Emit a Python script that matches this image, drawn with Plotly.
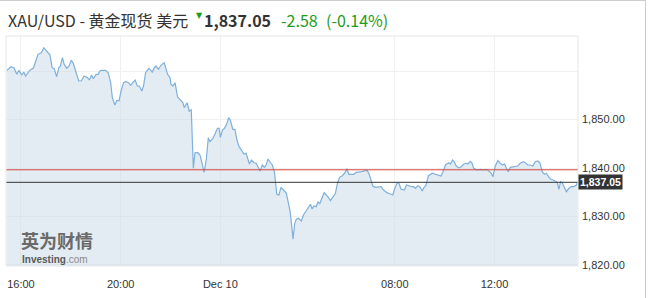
import plotly.graph_objects as go

# trading minutes since Dec 9 16:00 (daily break removed)
minutes = [-34, -24, -17, -10, -5, 2, 7, 11, 16, 21, 30, 35, 41, 49, 55, 62, 70, 75, 80, 86,
           91, 95, 100, 104, 110, 116, 121, 126, 133, 139, 145, 152, 160, 165, 170, 174, 181, 186, 190, 194,
           204, 210, 216, 220, 226, 231, 236, 241, 247, 252, 259, 264, 269, 275, 280, 285, 291, 295, 300, 305,
           308, 313, 316, 321, 325, 331, 337, 345, 349, 353, 359, 361, 366, 371, 377, 383, 390, 393, 400, 405,
           410, 415, 419, 425, 431, 436, 441, 446, 451, 455, 462, 468, 473, 477, 480, 485, 490, 496, 500, 504,
           510, 515, 520, 525, 532, 537, 542, 545, 550, 555, 561, 566, 571, 576, 581, 586, 590, 595, 600, 605,
           610, 614, 616, 621, 626, 632, 639, 644, 648, 652, 655, 659, 663, 668, 675, 680, 687, 692, 697, 701,
           705, 711, 715, 719, 725, 730, 735, 740, 745, 751, 757, 762, 767, 773, 779, 785, 789, 794, 801, 807,
           817, 829, 834, 839, 847, 853, 861, 867, 873, 881, 889, 895, 900, 905, 910, 915, 923, 928, 934, 940,
           945, 950, 955, 960, 966, 970, 975, 981, 990, 998, 1006, 1011, 1016, 1022, 1030, 1034, 1039, 1043, 1048, 1054,
           1060, 1066, 1072, 1076, 1082, 1086, 1090, 1098, 1106, 1114, 1120, 1126, 1132, 1136, 1142, 1148, 1154, 1159, 1164, 1169,
           1173, 1178, 1186, 1196, 1202, 1209, 1214, 1220, 1226, 1232, 1238, 1244, 1249, 1255, 1260, 1265, 1271, 1276, 1281, 1287,
           1291, 1295, 1299, 1303, 1308, 1313, 1319, 1325, 1331, 1337, 1340]

prices = [1860.14, 1860.89, 1860.68, 1859.32, 1860.14, 1859.18, 1859.79, 1858.97, 1859.53, 1860.14,
          1860.62, 1862.06, 1863.44, 1863.77, 1864.80, 1864.12, 1863.30, 1860.68, 1860.47, 1858.82,
          1860.68, 1861.03, 1862.74, 1861.38, 1860.56, 1861.03, 1862.21, 1861.59, 1859.53, 1857.94,
          1857.94, 1858.97, 1858.62, 1858.21, 1859.18, 1858.41, 1859.32, 1859.32, 1860.00, 1860.14,
          1860.14, 1859.65, 1857.59, 1854.49, 1852.99, 1853.96, 1853.81, 1855.88, 1857.59, 1857.79,
          1857.59, 1857.05, 1857.59, 1858.14, 1856.91, 1856.91, 1855.88, 1856.91, 1859.65, 1860.14,
          1860.56, 1860.14, 1859.79, 1860.68, 1861.03, 1860.35, 1861.18, 1861.71, 1860.35, 1859.32,
          1858.62, 1857.26, 1856.91, 1857.59, 1854.64, 1854.16, 1853.46, 1852.43, 1853.46, 1851.75,
          1851.96, 1839.94, 1843.15, 1843.24, 1842.68, 1840.97, 1839.11, 1841.65, 1846.25, 1845.42,
          1846.12, 1847.15, 1848.19, 1848.19, 1846.33, 1847.84, 1848.19, 1849.22, 1850.37, 1849.90,
          1847.98, 1847.98, 1845.77, 1844.39, 1843.36, 1842.89, 1843.03, 1842.12, 1840.82, 1841.65,
          1841.09, 1840.97, 1840.14, 1839.38, 1840.62, 1840.14, 1840.62, 1841.86, 1841.18, 1840.62,
          1839.24, 1836.85, 1834.58, 1834.43, 1836.02, 1835.46, 1834.78, 1832.72, 1830.99, 1827.90,
          1825.30, 1828.60, 1829.42, 1829.63, 1829.07, 1830.31, 1831.34, 1831.90, 1832.52, 1831.55,
          1832.16, 1832.02, 1833.05, 1832.58, 1834.08, 1834.91, 1834.43, 1833.96, 1833.26, 1833.96,
          1834.78, 1836.85, 1838.08, 1838.35, 1838.91, 1839.86, 1838.70, 1838.70, 1838.70, 1839.11,
          1839.18, 1839.44, 1839.44, 1838.56, 1836.29, 1836.02, 1836.02, 1836.14, 1835.46, 1834.91,
          1834.64, 1834.43, 1835.81, 1836.85, 1836.85, 1835.61, 1835.46, 1836.49, 1836.35, 1836.14,
          1836.14, 1835.81, 1836.35, 1836.14, 1835.26, 1835.94, 1836.39, 1838.41, 1838.91, 1838.70,
          1838.56, 1838.35, 1839.24, 1840.62, 1841.09, 1840.82, 1841.65, 1841.30, 1840.41, 1840.06,
          1840.27, 1840.82, 1840.97, 1840.82, 1841.38, 1840.97, 1839.94, 1839.59, 1839.73, 1839.59,
          1839.73, 1839.44, 1838.91, 1838.21, 1840.41, 1841.51, 1840.97, 1840.62, 1840.82, 1839.73,
          1839.24, 1840.14, 1840.27, 1840.41, 1840.97, 1841.30, 1841.09, 1840.62, 1840.62, 1840.41,
          1841.30, 1841.44, 1841.09, 1839.24, 1838.70, 1838.91, 1838.08, 1837.67, 1837.53, 1837.18,
          1837.05, 1835.61, 1837.18, 1836.97, 1836.14, 1835.11, 1835.81, 1836.14, 1836.14, 1836.49, 1837.05]

prev_close = 1839.63
last_price = 1837.05
change_text = "-2.58"
change_pct_text = "(-0.14%)"
title_text = "XAU/USD - 黄金现货 美元"

x_tick_vals = [0, 240, 480, 900, 1140]
x_tick_text = ["16:00", "20:00", "Dec 10", "08:00", "12:00"]
y_tick_vals = [1820, 1830, 1840, 1850, 1860]
y_tick_text = ["1,820.00", "1,830.00", "1,840.00", "1,850.00", ""]

W, H = 656, 298
ML, MR, MT, MB = 6, 78, 36, 32
PW, PH = W - ML - MR, H - MT - MB


def px(xp):
    return (xp - ML) / PW


def py(yp):
    return (H - MB - yp) / PH


GREEN = "#1c9c1c"
CJK = "Noto Sans CJK SC"
AX = "Liberation Sans, Arial, sans-serif"

fig = go.Figure()
fig.add_trace(go.Scatter(
    x=minutes, y=prices, mode="lines",
    line=dict(color="#7fb0dc", width=1.2),
    fill="tozeroy", fillcolor="rgba(200,218,231,0.5)",
    hoverinfo="skip", showlegend=False,
))

shapes = [
    dict(type="line", xref="paper", x0=0, x1=1, yref="y", y0=prev_close, y1=prev_close,
         line=dict(color="#d9443f", width=1)),
    dict(type="line", xref="paper", x0=0, x1=1, yref="y", y0=last_price, y1=last_price,
         line=dict(color="#333333", width=1)),
    dict(type="rect", xref="paper", yref="paper", x0=0, x1=1, y0=0, y1=1,
         line=dict(color="#e6e6e6", width=1)),
    dict(type="line", xref="paper", yref="paper", x0=px(0), x1=px(646), y0=py(0.5), y1=py(0.5),
         line=dict(color="#cccccc", width=1)),
    dict(type="line", xref="paper", yref="paper", x0=px(645.5), x1=px(645.5), y0=py(0), y1=py(298),
         line=dict(color="#cccccc", width=1)),
]

annotations = [
    dict(xref="paper", yref="paper", x=px(6), y=py(20), xanchor="left", yanchor="middle",
         text=title_text, showarrow=False, font=dict(family=CJK, size=16, color="#333333")),
    dict(xref="paper", yref="paper", x=px(194), y=py(15), xanchor="left", yanchor="middle",
         text="▼", showarrow=False, font=dict(family="DejaVu Sans", size=8, color=GREEN)),
    dict(xref="paper", yref="paper", x=px(202), y=py(20), xanchor="left", yanchor="middle",
         text="<b>1,837.05</b>", showarrow=False, font=dict(family=CJK, size=16, color="#333333")),
    dict(xref="paper", yref="paper", x=px(279), y=py(20), xanchor="left", yanchor="middle",
         text=change_text, showarrow=False, font=dict(family=CJK, size=16, color=GREEN)),
    dict(xref="paper", yref="paper", x=px(324), y=py(20), xanchor="left", yanchor="middle",
         text=change_pct_text, showarrow=False, font=dict(family=CJK, size=16, color=GREEN)),
    dict(xref="paper", yref="y", x=1, y=last_price, xanchor="left", yanchor="middle",
         text="<b>1,837.05</b>", showarrow=False, bgcolor="#333333", borderpad=1,
         font=dict(family=AX, size=10.5, color="#ffffff")),
    dict(xref="paper", yref="paper", x=px(20), y=py(240), xanchor="left", yanchor="middle",
         text="<b>英为财情</b>", showarrow=False, borderpad=0,
         font=dict(family=CJK, size=18, color="#6a6a6a")),
    dict(xref="paper", yref="paper", x=px(21), y=py(259.5), xanchor="left", yanchor="middle",
         text="<b>Investing</b><span style='color:#8a8a8a'>.com</span>", showarrow=False, borderpad=0,
         font=dict(family=AX, size=10, color="#5a5a5a")),
]

fig.update_layout(
    width=W, height=H,
    margin=dict(l=ML, r=MR, t=MT, b=MB, pad=0),
    paper_bgcolor="#ffffff", plot_bgcolor="#ffffff",
    shapes=shapes, annotations=annotations,
    xaxis=dict(range=[-36, 1341], tickvals=x_tick_vals, ticktext=x_tick_text,
               showgrid=True, gridcolor="#f0f0f0", zeroline=False, ticks="",
               ticklabelstandoff=10,
               tickfont=dict(family=AX, size=11, color="#333333"), fixedrange=True),
    yaxis=dict(side="right", range=[1819.79, 1867.22], tickvals=y_tick_vals, ticktext=y_tick_text,
               showgrid=True, gridcolor="#f0f0f0", zeroline=False, ticks="",
               ticklabelstandoff=3,
               tickfont=dict(family=AX, size=11, color="#333333"), fixedrange=True),
)

fig.write_html("out.html")
